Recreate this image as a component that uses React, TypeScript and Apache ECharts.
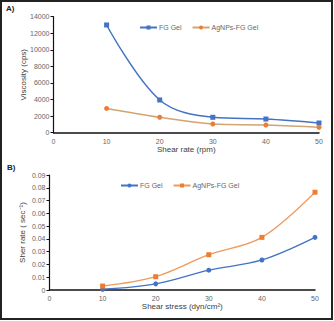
import React, { useEffect, useRef } from "react";
import * as echarts from "echarts";

const shearRateA = [10, 20, 30, 40, 50];
const fgViscosity = [13000, 3950, 1860, 1650, 1170];
const agViscosity = [2930, 1860, 1050, 930, 650];

const shearStressB = [10, 20, 30, 40, 50];
const fgShear = [0.0006, 0.0048, 0.0155, 0.0235, 0.0412];
const agShear = [0.0031, 0.0104, 0.0276, 0.0412, 0.0765];

const seriesNames = ["FG Gel", "AgNPs-FG Gel"];

const BLUE = "#4472C4";
const ORANGE = "#ED7D31";
const FONT = "Liberation Sans";
const LABEL = "#666666";

export default function App() {
  const ref = useRef<HTMLDivElement>(null);
  useEffect(() => {
    if (!ref.current) return;
    const chart = echarts.init(ref.current, null, { renderer: "svg" });
    const axisLabel = { color: LABEL, fontSize: 7, fontFamily: FONT };
    const nameStyle = { color: "#404040", fontSize: 8, fontFamily: FONT };
    const legendText = { color: LABEL, fontSize: 7, fontFamily: FONT, padding: [0, 0, 0, -3] };
    const xAxisCommon = {
      type: "value",
      min: 0,
      max: 50,
      interval: 10,
      axisLine: { show: true, lineStyle: { color: "#111", width: 1.5 } },
      axisTick: { show: false },
      splitLine: { show: false },
      axisLabel: { ...axisLabel, margin: 5 },
      nameLocation: "middle",
      nameMoveOverlap: false,
      nameTextStyle: nameStyle,
    };
    const yAxisCommon = {
      type: "value",
      min: 0,
      axisLine: { show: true, lineStyle: { color: "#111", width: 1.2 } },
      axisTick: { show: true, inside: false, length: 3, lineStyle: { color: "#111" } },
      splitLine: { show: false },
      nameLocation: "middle",
      nameMoveOverlap: false,
      nameTextStyle: nameStyle,
    };
    chart.setOption({
      animation: false,
      backgroundColor: "#fff",
      graphic: [
        {
          type: "rect",
          shape: { x: 1, y: 1, width: 331, height: 318 },
          style: { fill: "none", stroke: "#222", lineWidth: 2 },
        },
        {
          type: "text",
          x: 6,
          y: 4,
          style: { text: "A)", fontSize: 8, fontFamily: FONT, fill: "#222", fontWeight: "bold" },
        },
        {
          type: "text",
          x: 7,
          y: 163,
          style: { text: "B)", fontSize: 8, fontFamily: FONT, fill: "#222", fontWeight: "bold" },
        },
      ],
      grid: [
        { left: 53.5, top: 16.7, width: 265.5, height: 116 },
        { left: 49.5, top: 175, width: 265.5, height: 115 },
      ],
      legend: [
        {
          data: seriesNames.map((n) => ({ name: n })),
          left: 134,
          top: 19,
          itemWidth: 17,
          itemHeight: 5,
          itemGap: 10,
          textStyle: legendText,
          selectedMode: false,
        },
        {
          data: seriesNames.map((n) => ({ name: n + " " })),
          left: 115,
          top: 177,
          itemWidth: 17,
          itemHeight: 5,
          itemGap: 10,
          textStyle: legendText,
          selectedMode: false,
          formatter: (n: string) => n.trim(),
        },
      ],
      xAxis: [
        { ...xAxisCommon, gridIndex: 0, name: "Shear rate (rpm)", nameGap: 13 },
        { ...xAxisCommon, gridIndex: 1, name: "Shear stress (dyn/cm²)", nameGap: 12 },
      ],
      yAxis: [
        {
          ...yAxisCommon,
          gridIndex: 0,
          max: 14000,
          interval: 2000,
          axisLabel: { ...axisLabel, margin: 4, formatter: (v: number) => String(v) },
          name: "Viscosity (cps)",
          nameGap: 26,
        },
        {
          ...yAxisCommon,
          gridIndex: 1,
          max: 0.09,
          interval: 0.01,
          axisLabel: {
            ...axisLabel,
            margin: 4,
            formatter: (v: number) => (v === 0 ? "0" : v.toFixed(2)),
          },
          name: "Sher rate ( sec⁻¹)",
          nameGap: 23,
        },
      ],
      series: [
        {
          name: seriesNames[0],
          type: "line",
          xAxisIndex: 0,
          yAxisIndex: 0,
          smooth: 0.35,
          data: shearRateA.map((x, i) => [x, fgViscosity[i]]),
          symbol: "rect",
          symbolSize: 5,
          itemStyle: { color: BLUE },
          lineStyle: { color: BLUE, width: 1.5 },
        },
        {
          name: seriesNames[1],
          type: "line",
          xAxisIndex: 0,
          yAxisIndex: 0,
          smooth: 0.35,
          data: shearRateA.map((x, i) => [x, agViscosity[i]]),
          symbol: "circle",
          symbolSize: 5,
          itemStyle: { color: ORANGE },
          lineStyle: { color: "#D2A472", width: 1.5 },
        },
        {
          name: seriesNames[0] + " ",
          type: "line",
          xAxisIndex: 1,
          yAxisIndex: 1,
          smooth: 0.35,
          data: shearStressB.map((x, i) => [x, fgShear[i]]),
          symbol: "circle",
          symbolSize: 5,
          itemStyle: { color: BLUE },
          lineStyle: { color: BLUE, width: 1.3 },
        },
        {
          name: seriesNames[1] + " ",
          type: "line",
          xAxisIndex: 1,
          yAxisIndex: 1,
          smooth: 0.35,
          data: shearStressB.map((x, i) => [x, agShear[i]]),
          symbol: "rect",
          symbolSize: 5,
          itemStyle: { color: ORANGE },
          lineStyle: { color: "#EE9A5C", width: 1.3 },
        },
      ],
    });
    return () => chart.dispose();
  }, []);
  return (
    <div
      ref={ref}
      style={{ position: "fixed", left: 0, top: 0, width: 334, height: 321, background: "#fff" }}
    />
  );
}
